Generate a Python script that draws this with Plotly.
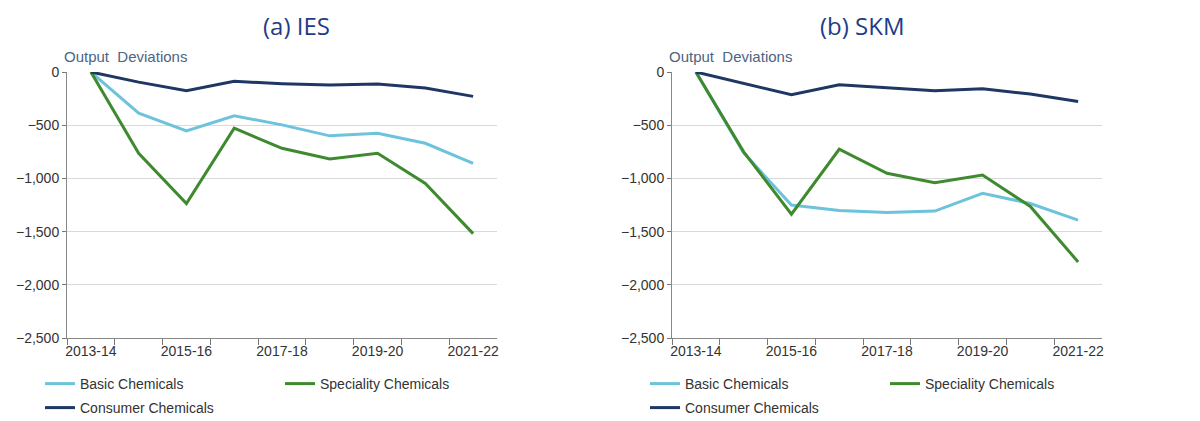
import plotly.graph_objects as go

years = ["2013-14", "2014-15", "2015-16", "2016-17", "2017-18",
         "2018-19", "2019-20", "2020-21", "2021-22"]
year_labels = ["2013-14", "2015-16", "2017-18", "2019-20", "2021-22"]

# (a) IES
ies_basic = [0, -387, -553, -412, -497, -600, -575, -670, -858]
ies_speciality = [0, -764, -1236, -528, -717, -818, -764, -1047, -1519]
ies_consumer = [0, -95, -176, -88, -110, -123, -113, -151, -229]

# (b) SKM
skm_basic = [0, -760, -1251, -1302, -1321, -1307, -1141, -1236, -1392]
skm_speciality = [0, -750, -1336, -726, -952, -1040, -968, -1264, -1785]
skm_consumer = [0, -104, -214, -120, -151, -176, -157, -207, -277]

panel_titles = ["(a) IES", "(b) SKM"]
series_names = ["Basic Chemicals", "Speciality Chemicals", "Consumer Chemicals"]

_COLORS = ["#6ec3dc", "#3f8a2f", "#1f3763"]
_FONT = "Liberation Sans, Arial, sans-serif"
_TICK_COLOR = "#333"
_W, _H = 1200, 421
_OFF = 8  # page body margin


def _px(x):
    return (x - _OFF) / _W


def _py(y):
    return 1 - (y - _OFF) / _H


fig = go.Figure()

panels = [
    ("x", "y", ["legend", "legend", "legend3"], [ies_basic, ies_speciality, ies_consumer]),
    ("x2", "y2", ["legend2", "legend2", "legend4"], [skm_basic, skm_speciality, skm_consumer]),
]
for xa, ya, legs, series in panels:
    for name, values, color, leg in zip(series_names, series, _COLORS, legs):
        fig.add_trace(go.Scatter(
            x=years, y=values, name=name, mode="lines",
            line=dict(color=color, width=3),
            xaxis=xa, yaxis=ya, legend=leg,
        ))

ticktext = [y if y in year_labels else "" for y in years]

x_common = dict(
    type="category", range=[-0.5, 8.5], tickmode="array", tickvals=years,
    ticktext=ticktext, tickson="boundaries", ticks="outside", ticklen=6,
    tickcolor="#777", showline=True, linecolor="#888", linewidth=1,
    showgrid=False, tickangle=0, automargin=False,
    tickfont=dict(size=14, color=_TICK_COLOR, family=_FONT),
)
y_common = dict(
    range=[-2500, 0], dtick=500, tickformat=",", ticks="outside", ticklen=4,
    tickcolor="#777", showline=True, linecolor="#888", linewidth=1,
    showgrid=True, gridcolor="#d9d9d9", zeroline=False, automargin=False,
    tickfont=dict(size=14, color=_TICK_COLOR, family=_FONT),
)

y_dom = [_py(338), _py(72)]

legend_common = dict(
    orientation="h", entrywidth=195, entrywidthmode="pixels",
    yanchor="top", xanchor="left",
    font=dict(size=14, color="#333", family=_FONT), bgcolor="rgba(0,0,0,0)",
    itemwidth=30,
)

fig.update_layout(
    width=_W, height=_H,
    margin=dict(l=0, r=0, t=0, b=0),
    plot_bgcolor="#fff", paper_bgcolor="#fff",
    xaxis=dict(domain=[_px(67), _px(497)], anchor="y", **x_common),
    yaxis=dict(domain=y_dom, anchor="x", **y_common),
    xaxis2=dict(domain=[_px(672), _px(1102)], anchor="y2", **x_common),
    yaxis2=dict(domain=y_dom, anchor="x2", **y_common),
    legend=dict(x=_px(40), y=_py(368), **legend_common),
    legend2=dict(x=_px(645), y=_py(368), **legend_common),
    legend3=dict(x=_px(40), y=_py(392), **legend_common),
    legend4=dict(x=_px(645), y=_py(392), **legend_common),
)

for title, cx in zip(panel_titles, [296, 862]):
    fig.add_annotation(
        text=title, xref="paper", yref="paper", x=_px(cx), y=_py(25),
        showarrow=False, font=dict(size=24, color="#1f3c88", family="Open Sans, sans-serif"),
        xanchor="center", yanchor="middle",
    )

for cx in [62, 667]:
    fig.add_annotation(
        text="Output  Deviations", xref="paper", yref="paper", x=_px(cx), y=_py(57),
        showarrow=False, font=dict(size=15, color="#4b6585", family=_FONT),
        xanchor="left", yanchor="middle",
    )

fig.write_html("out.html")
